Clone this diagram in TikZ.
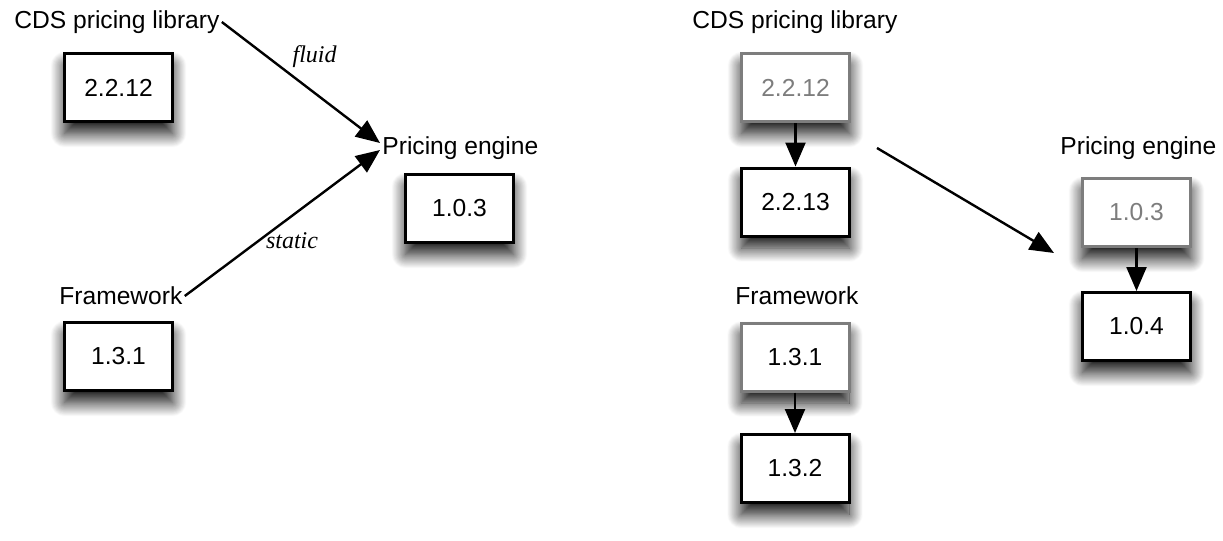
\documentclass[tikz,border=0pt]{standalone}
\usepackage{fontspec}
\setmainfont{Liberation Sans}
\newfontfamily\lblfont{Liberation Serif}
\usepackage{xcolor}
\usepackage{tikz}
\usetikzlibrary{arrows.meta,shadows.blur}
\definecolor{oldgray}{RGB}{125,125,125}
\tikzset{
  comp/.style = {inner sep=1pt, anchor=west, font=\fontsize{12.3}{15}\selectfont},% component name
  ver/.style = {rectangle, draw=black, fill=white, line width=1.5pt,
    minimum width=54pt, minimum height=34pt, inner sep=0pt,
    font=\fontsize{12.3}{15}\selectfont,
    blur shadow={shadow xshift=0pt, shadow yshift=-6pt,
      shadow blur radius=7pt, shadow blur steps=25, shadow opacity=95}},% version box
  ver_old/.style = {ver, draw=oldgray, text=oldgray},% version replaced
  dep/.style = {line width=1.2pt, -{Triangle[length=12pt,width=10pt]}},
  dep_lbl/.style = {font=\lblfont\itshape\fontsize{12}{14}\selectfont, inner sep=0pt}
}
\begin{document}
\begin{tikzpicture}[x=0.5pt,y=-0.5pt]
\useasboundingbox (0,0) rectangle (1223,541);
% before
\node [comp] (libL) at (12,22) {CDS pricing library};
\node [ver] (libLv) at (118.5,87.5) {2.2.12};
\node [comp] (fwL) at (57,296) {Framework};
\node [ver] (fwLv) at (118.5,356.5) {1.3.1};
\node [comp] (engL) at (380,148) {Pricing engine};
\node [ver] (engLv) at (459.5,208.5) {1.0.3};
\draw [dep] (libL.east) -- ([yshift=2.5pt]engL.west)
  node [dep_lbl, pos=0.44, anchor=south west, yshift=3pt] {fluid};
\draw [dep] (fwL.east) -- ([yshift=-1pt]engL.west)
  node [dep_lbl, pos=0.41, anchor=north west, yshift=2.5pt] {static};
% after
\node [comp] (libR) at (690,22) {CDS pricing library};
\node [ver_old] (libRa) at (795.5,87.5) {2.2.12};
\node [ver] (libRb) at (795.5,202) {2.2.13};
\node [comp] (fwR) at (733,296) {Framework};
\node [ver, draw=oldgray] (fwRa) at (795,357) {1.3.1};
\node [ver] (fwRb) at (795,468.5) {1.3.2};
\node [comp] (engR) at (1058,148) {Pricing engine};
\node [ver_old] (engRa) at (1136.5,212.5) {1.0.3};
\node [ver] (engRb) at (1136.5,326.5) {1.0.4};
\draw [dep] (libRa) -- (libRb);
\draw [dep] (fwRa) -- (fwRb);
\draw [dep] (engRa) -- (engRb);
\coordinate (upd_from) at (877,148);
\coordinate (upd_to) at (1054,253);
\draw [dep] (upd_from) -- (upd_to);
\end{tikzpicture}
\end{document}
